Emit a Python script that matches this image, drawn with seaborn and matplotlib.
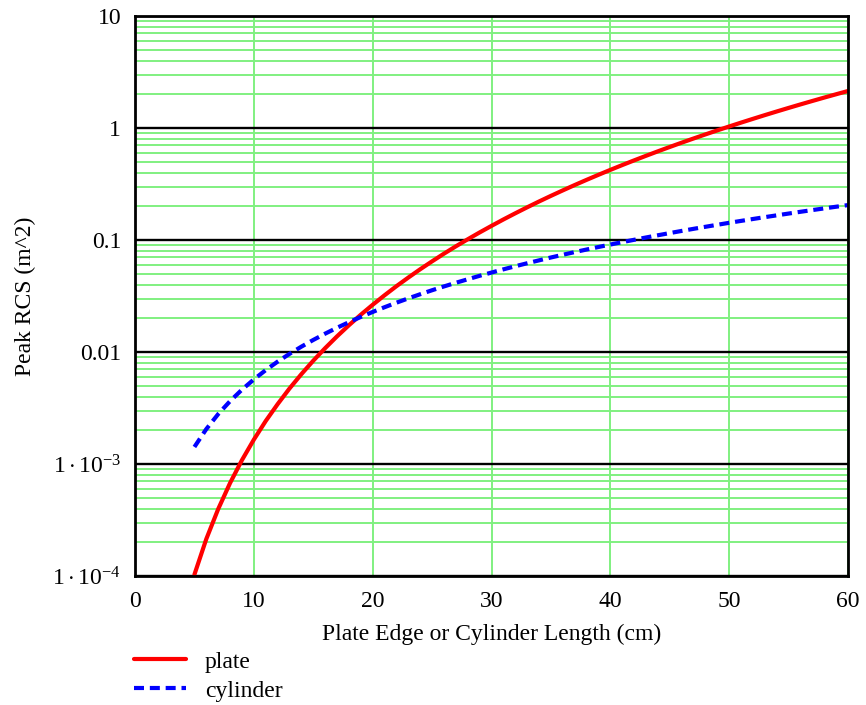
import numpy as np
import pandas as pd
import matplotlib
matplotlib.use("Agg")
import matplotlib.pyplot as plt
from matplotlib.ticker import LogLocator, FixedLocator, NullFormatter
from matplotlib.lines import Line2D
import seaborn as sns

# Edge / length (cm)
length_cm = list(range(5, 61))

# Peak RCS of the square plate (m^2)
plate_rcs = [
    1.03e-4, 2.14e-4, 3.96e-4, 6.76e-4, 1.083e-3, 1.65e-3, 2.42e-3, 3.42e-3,
    4.72e-3, 6.34e-3, 8.36e-3, 1.082e-2, 1.379e-2, 1.733e-2, 2.152e-2, 2.64e-2,
    3.21e-2, 3.87e-2, 4.62e-2, 5.48e-2, 6.45e-2, 7.55e-2, 8.78e-2, 0.1015,
    0.1168, 0.1337, 0.1525, 0.1731, 0.1958, 0.2207, 0.2478, 0.2773,
    0.3095, 0.3443, 0.382, 0.4227, 0.4666, 0.5138, 0.5645, 0.6189,
    0.6771, 0.7393, 0.8057, 0.8765, 0.9519, 1.032, 1.117, 1.207,
    1.303, 1.404, 1.511, 1.624, 1.743, 1.869, 2.001, 2.14,
]

# Peak RCS of the cylinder (m^2)
cylinder_rcs = [
    1.42e-3, 2.05e-3, 2.79e-3, 3.64e-3, 4.61e-3, 5.69e-3, 6.89e-3, 8.20e-3,
    9.62e-3, 1.116e-2, 1.281e-2, 1.458e-2, 1.646e-2, 1.845e-2, 2.056e-2, 2.278e-2,
    2.511e-2, 2.756e-2, 3.012e-2, 3.28e-2, 3.56e-2, 3.85e-2, 4.15e-2, 4.46e-2,
    4.79e-2, 5.12e-2, 5.47e-2, 5.83e-2, 6.20e-2, 6.58e-2, 6.98e-2, 7.38e-2,
    7.80e-2, 8.22e-2, 8.66e-2, 9.11e-2, 9.57e-2, 0.1004, 0.1053, 0.1102,
    0.1153, 0.1205, 0.1258, 0.1312, 0.1367, 0.1424, 0.1481, 0.154,
    0.160, 0.166, 0.1722, 0.1786, 0.185, 0.1915, 0.1982, 0.205,
]

series_names = ["plate", "cylinder"]
x_ticks = [0, 10, 20, 30, 40, 50, 60]
y_ticks = [1e-4, 1e-3, 1e-2, 1e-1, 1, 10]
y_tick_labels = [r"$1\cdot10^{-4}$", r"$1\cdot10^{-3}$", "0.01", "0.1", "1", "10"]

df = pd.concat([
    pd.DataFrame({"L": length_cm, "RCS": plate_rcs, "shape": "plate"}),
    pd.DataFrame({"L": length_cm, "RCS": cylinder_rcs, "shape": "cylinder"}),
])

sns.set_style("white")
plt.rcParams["font.family"] = ["Liberation Serif", "DejaVu Serif"]
plt.rcParams["mathtext.fontset"] = "custom"
plt.rcParams["mathtext.rm"] = "Liberation Serif"
plt.rcParams["mathtext.it"] = "Liberation Serif"
plt.rcParams["text.color"] = "black"
plt.rcParams["axes.labelcolor"] = "black"
plt.rcParams["xtick.color"] = "black"
plt.rcParams["ytick.color"] = "black"

FS = 17
LW = 3.0
CYL_DASH = (2.4, 1.4)

fig = plt.figure(figsize=(8.66, 7.05), dpi=100)
ax = fig.add_axes([135 / 866, 1 - 576 / 705, 713 / 866, 560 / 705])

colors = {"plate": "#ff0000", "cylinder": "#0000ff"}
dash_map = {"plate": "", "cylinder": CYL_DASH}
sns.lineplot(data=df, x="L", y="RCS", hue="shape", style="shape",
             palette=colors, dashes=dash_map, linewidth=LW,
             legend=False, ax=ax, zorder=5)

ax.set_yscale("log")
ax.set_xlim(0, 60)
ax.set_ylim(1e-4, 10)

ax.yaxis.set_major_locator(FixedLocator(y_ticks))
ax.set_yticklabels(y_tick_labels)
ax.yaxis.set_minor_locator(LogLocator(base=10, subs=np.arange(2, 10), numticks=20))
ax.yaxis.set_minor_formatter(NullFormatter())
ax.set_xticks(x_ticks)
ax.set_xticklabels([str(t) for t in x_ticks])

green = "#80f080"
ax.grid(False)
ax.yaxis.grid(True, which="minor", color=green, linewidth=1.4, zorder=1)
ax.yaxis.grid(True, which="major", color="black", linewidth=1.7, zorder=2)
ax.xaxis.grid(True, which="major", color=green, linewidth=1.4, zorder=1)
ax.set_axisbelow(True)

for s in ax.spines.values():
    s.set_color("black")
    s.set_linewidth(2.0)
    s.set_zorder(6)

ax.tick_params(axis="both", which="both", length=0, labelsize=FS,
               colors="black", labelcolor="black")
ax.tick_params(axis="x", pad=11)
ax.tick_params(axis="y", pad=10)

ax.set_xlabel("Plate Edge or Cylinder Length (cm)", fontsize=FS, labelpad=8,
              color="black")
ax.set_ylabel("Peak RCS (m^2)", fontsize=FS, labelpad=12, color="black")

handles = [
    Line2D([], [], color=colors["plate"], linewidth=LW),
    Line2D([], [], color=colors["cylinder"], linewidth=LW, dashes=CYL_DASH),
]
leg = fig.legend(handles, series_names, loc="upper left",
                 bbox_to_anchor=(134 / 866, 1 - 651 / 705), frameon=False,
                 fontsize=FS, handlelength=2.2, handletextpad=0.8, labelspacing=0.32,
                 borderaxespad=0, borderpad=0, labelcolor="black")

fig.savefig("out.png", dpi=100)
